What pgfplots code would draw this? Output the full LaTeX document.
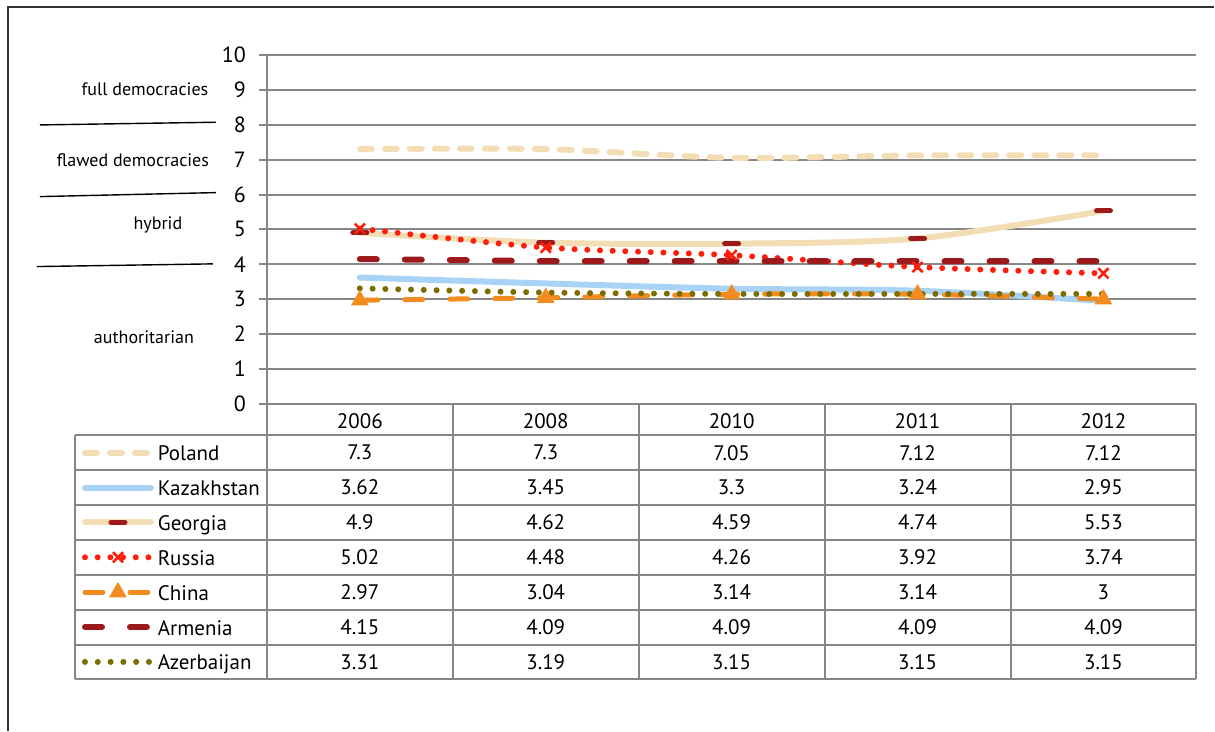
\documentclass[border=0pt]{standalone}
\usepackage{pgfplots}
\pgfplotsset{compat=1.18}
\usepackage{fontspec}
\setmainfont{PT Sans}
\definecolor{pol}{RGB}{243,221,180}
\definecolor{kaz}{RGB}{168,210,246}
\definecolor{geo}{RGB}{243,221,180}
\definecolor{rus}{RGB}{255,30,12}
\definecolor{chn}{RGB}{242,140,30}
\definecolor{arm}{RGB}{156,26,28}
\definecolor{aze}{RGB}{124,108,0}
\definecolor{gridc}{RGB}{134,134,134}
\begin{document}
\begin{tikzpicture}
\begin{scope}[x=0.5pt,y=-0.5pt]
\path (0,0) rectangle (1215,731);
\draw[line width=0.6pt, black!80] (8,731) -- (8,7) -- (1215,7);
\begin{scope}[font=\fontsize{9}{10}\selectfont]
\node at (145,89) {full democracies};
\node at (133,160) {flawed democracies};
\node at (158,225) {hybrid};
\node at (144,337) {authoritarian};
\end{scope}
\draw[line width=0.7pt] (40,125) -- (216,122.3);
\draw[line width=0.7pt] (40,196.7) -- (216,192.7);
\draw[line width=0.7pt] (37,266.7) -- (213,264);
% table grid
\foreach \yy in {435.5,470.4,505.3,540.2,575.1,610,644.9,679.8} {\draw[gridc, line width=1pt] (75,\yy) -- (1197,\yy);}
\draw[gridc, line width=1pt] (75,435.5) -- (75,679.8);
\foreach \xx in {267,453,639,825,1011,1197} {\draw[gridc, line width=1pt] (\xx,404) -- (\xx,679.8);}
\begin{scope}[font=\fontsize{10.5}{12}\selectfont]
\foreach \a/\b/\c/\d/\e [count=\k from 0] in {7.3/7.3/7.05/7.12/7.12, 3.62/3.45/3.3/3.24/2.95, 4.9/4.62/4.59/4.74/5.53, 5.02/4.48/4.26/3.92/3.74, 2.97/3.04/3.14/3.14/3, 4.15/4.09/4.09/4.09/4.09, 3.31/3.19/3.15/3.15/3.15} {
  \pgfmathsetmacro{\yc}{452.95+34.9*\k}
  \node at (360,\yc) {\a};
  \node at (546,\yc) {\b};
  \node at (732,\yc) {\c};
  \node at (918,\yc) {\d};
  \node at (1104,\yc) {\e};
}
\end{scope}
\end{scope}
\begin{axis}[
  at={(133.5pt,-202pt)}, anchor=south west,
  scale only axis, width=465pt, height=174.5pt,
  xmin=-0.5, xmax=4.5, ymin=0, ymax=10,
  clip=false,
  axis lines*=left,
  axis line style={gridc, line width=1pt},
  xtick={0,...,4}, xticklabels={2006,2008,2010,2011,2012},
  x tick style={draw=none},
  ytick={0,...,10},
  y tick style={gridc, line width=1pt},
  tick align=outside, major tick length=4pt,
  ymajorgrids, grid style={gridc, line width=1pt},
  /pgf/number format/assume math mode=true,
  xticklabel style={anchor=center, yshift=-4.5pt, font=\fontsize{10.5}{12}\selectfont},
  yticklabel style={anchor=east, xshift=-3pt, font=\fontsize{11}{12}\selectfont},
  legend image code/.code={\draw[mark repeat=2,mark phase=2,#1] plot coordinates {(0pt,0.3pt)(16.5pt,0.3pt)(33pt,0.3pt)};},
  legend style={at={(axis description cs:-0.1989,-0.0917)}, anchor=north west, draw=none, fill=none, inner sep=0pt, outer sep=0pt, row sep=0pt, column sep=2pt, font=\fontsize{10.5}{12}\selectfont, nodes={inner sep=0pt, text height=12.45pt, text depth=5pt}},
  legend cell align=left,
]
\addplot[pol, line width=3pt, dash pattern=on 6pt off 6.5pt, line cap=round, smooth] coordinates {(0,7.3)(1,7.3)(2,7.05)(3,7.12)(4,7.12)};
\addlegendentry{Poland}
\addplot[kaz, line width=3pt, line cap=round, smooth] coordinates {(0,3.62)(1,3.45)(2,3.3)(3,3.24)(4,2.95)};
\addlegendentry{Kazakhstan}
\addplot[geo, line width=3pt, line cap=round, smooth, mark=-, mark size=3.5pt, mark options={arm, line width=2.5pt, solid}] coordinates {(0,4.9)(1,4.62)(2,4.59)(3,4.74)(4,5.53)};
\addlegendentry{Georgia}
\addplot[rus, line width=3pt, dash pattern=on 0pt off 6.35pt, line cap=round, smooth, mark=x, mark size=3.6pt, mark options={solid, line width=1.3pt, line cap=butt}] coordinates {(0,5.02)(1,4.48)(2,4.26)(3,3.92)(4,3.74)};
\addlegendentry{Russia}
\addplot[chn, line width=2.5pt, dash pattern=on 9pt off 13.5pt, line cap=round, smooth, mark=triangle*, mark size=4.6pt, mark options={solid, fill=chn, draw=chn, line width=0.5pt}] coordinates {(0,2.97)(1,3.04)(2,3.14)(3,3.14)(4,3)};
\addlegendentry{China}
\addplot[arm, line width=3pt, dash pattern=on 8.5pt off 14pt, line cap=round] coordinates {(0,4.15)(1,4.09)(2,4.09)(3,4.09)(4,4.09)};
\addlegendentry{Armenia}
\addplot[aze, line width=3pt, dash pattern=on 0pt off 6.4pt, line cap=round, smooth] coordinates {(0,3.31)(1,3.19)(2,3.15)(3,3.15)(4,3.15)};
\addlegendentry{Azerbaijan}
\end{axis}
\end{tikzpicture}
\end{document}
